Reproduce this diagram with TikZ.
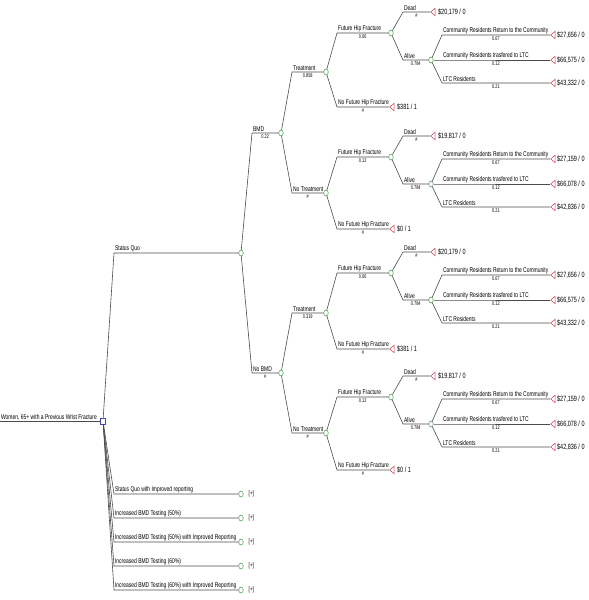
\documentclass[tikz,border=0pt]{standalone}
\usepackage{fontspec}
\newfontfamily\treefont{Liberation Sans}[FakeStretch=0.72]
\usepackage{tikz}
\usetikzlibrary{shapes.geometric}
\usetikzlibrary{positioning}

\definecolor{termred}{RGB}{205,55,75}
\definecolor{chgreen}{RGB}{60,150,60}
\definecolor{decblue}{RGB}{70,70,170}

\tikzset{
  branch/.style={draw=black!70, line width=0.6pt},
  decision/.style={rectangle, draw=decblue, fill=white, minimum width=5pt, minimum height=6.5pt, inner sep=0pt, line width=0.5pt},
  chance/.style={ellipse, draw=chgreen, fill=white, minimum width=4.5pt, minimum height=6pt, inner sep=0pt, line width=0.5pt},
  terminal/.style={isosceles triangle, isosceles triangle stretches, shape border rotate=180, draw=termred, fill=white, minimum width=7.5pt, minimum height=4.5pt, inner sep=0pt, line width=0.5pt},
  lbl/.style={anchor=south west, inner sep=0.8pt, font=\treefont\fontsize{6.9}{8}\selectfont},
  prob/.style={anchor=north, inner sep=1.5pt, font=\treefont\fontsize{5.4}{6}\selectfont},
  payoff/.style={anchor=west, inner sep=0pt, font=\treefont\fontsize{7.6}{9}\selectfont},
}

\begin{document}
\begin{tikzpicture}[x=1pt, y=-1pt]
  \useasboundingbox (0,0) rectangle (589,600);

  % decision node
  \coordinate (w) at (0,421);
  \node[decision] (root) at (103,421) {};
  \draw[branch] (w) node[lbl] (wlab) {Women, 65+ with a Previous Wrist Fracture} -- (root);

  % status quo
  \coordinate (s0) at (114,253);
  \node[chance] (sq) at (241,253) {};
  \draw[branch] (root) -- (s0) node[lbl] (sqlab) {Status Quo} -- (sq);

  \coordinate (s1) at (252,133);
  \node[chance] (bmd) at (281,133) {};
  \draw[branch] (sq) -- (s1) node[lbl] (bmdlab) {BMD} -- node[prob] (bmdp) {0.22} (bmd);

  \coordinate (s2) at (252,373);
  \node[chance] (nobmd) at (281,373) {};
  \draw[branch] (sq) -- (s2) node[lbl] (nobmdlab) {No BMD} -- node[prob] (nobmdp) {\#} (nobmd);

  % treatment sub-trees
  \foreach \i/\pa/\yc/\yf/\yn/\lab/\pc/\pf/\pd/\pr/\pt/\pl/\pn in {
      1/bmd/72/33/107/Treatment/0.858/0.06/{\$20,179 / 0}/{\$27,656 / 0}/{\$66,575 / 0}/{\$43,332 / 0}/{\$381 / 1},
      2/bmd/193/157/229/No Treatment/\#/0.12/{\$19,817 / 0}/{\$27,159 / 0}/{\$66,078 / 0}/{\$42,836 / 0}/{\$0 / 1},
      3/nobmd/313/273/349/Treatment/0.319/0.06/{\$20,179 / 0}/{\$27,656 / 0}/{\$66,575 / 0}/{\$43,332 / 0}/{\$381 / 1},
      4/nobmd/433/397/470/No Treatment/\#/0.12/{\$19,817 / 0}/{\$27,159 / 0}/{\$66,078 / 0}/{\$42,836 / 0}/{\$0 / 1}} {
    \coordinate (c\i) at (292,\yc);
    \node[chance] (t\i) at (326,\yc) {};
    \draw[branch] (\pa) -- (c\i) node[lbl] (clab\i) {\lab} -- node[prob] (cp\i) {\pc} (t\i);

    \coordinate (f\i) at (337,\yf);
    \node[chance] (fh\i) at (391,\yf) {};
    \draw[branch] (t\i) -- (f\i) node[lbl] (flab\i) {Future Hip Fracture} -- node[prob] (fp\i) {\pf} (fh\i);

    \coordinate (n\i) at (337,\yn);
    \node[terminal, anchor=apex] (nt\i) at (389,\yn) {};
    \draw[branch] (t\i) -- (n\i) node[lbl] (nlab\i) {No Future Hip Fracture} -- node[prob] (np\i) {\#} (nt\i);
    \node[payoff, right=8pt of nt\i.apex] (npay\i) {\pn};

    \coordinate (d\i) at (403,\yf-21);
    \node[terminal, anchor=apex] (dt\i) at (430,\yf-21) {};
    \draw[branch] (fh\i) -- (d\i) node[lbl] (dlab\i) {Dead} -- node[prob] (dp\i) {\#} (dt\i);
    \node[payoff, right=8pt of dt\i.apex] (dpay\i) {\pd};

    \coordinate (a\i) at (403,\yf+27);
    \node[chance] (al\i) at (431,\yf+27) {};
    \draw[branch] (fh\i) -- (a\i) node[lbl] (alab\i) {Alive} -- node[prob] (ap\i) {0.784} (al\i);

    \coordinate (r\i) at (442,\yf+2);
    \node[terminal, anchor=apex] (rt\i) at (550,\yf+2) {};
    \draw[branch] (al\i) -- (r\i) node[lbl] (rlab\i) {Community Residents Return to the Community} -- node[prob] (rp\i) {0.67} (rt\i);
    \node[payoff, right=7pt of rt\i.apex] (rpay\i) {\pr};

    \coordinate (x\i) at (442,\yf+27);
    \node[terminal, anchor=apex] (xt\i) at (550,\yf+27) {};
    \draw[branch] (al\i) -- (x\i) node[lbl] (xlab\i) {Community Residents trasfered to LTC} -- node[prob] (xp\i) {0.12} (xt\i);
    \node[payoff, right=7pt of xt\i.apex] (xpay\i) {\pt};

    \coordinate (l\i) at (442,\yf+50);
    \node[terminal, anchor=apex] (lt\i) at (550,\yf+50) {};
    \draw[branch] (al\i) -- (l\i) node[lbl] (llab\i) {LTC Residents} -- node[prob] (lp\i) {0.21} (lt\i);
    \node[payoff, right=7pt of lt\i.apex] (lpay\i) {\pl};
  }

  % other strategies (collapsed)
  \foreach \j/\y/\lab in {
      1/494/Status Quo with Improved reporting,
      2/518/Increased BMD Testing (50\%),
      3/542/Increased BMD Testing (50\%) with Improved Reporting,
      4/566/Increased BMD Testing (60\%),
      5/590/Increased BMD Testing (60\%) with Improved Reporting} {
    \coordinate (b\j) at (114,\y);
    \node[chance] (bc\j) at (241,\y) {};
    \draw[branch] (root) -- (b\j) node[lbl] (blab\j) {\lab} -- (bc\j);
    \node[payoff, font=\treefont\fontsize{6.5}{7}\selectfont, right=5pt of bc\j] (bplus\j) {[+]};
  }
\end{tikzpicture}
\end{document}
